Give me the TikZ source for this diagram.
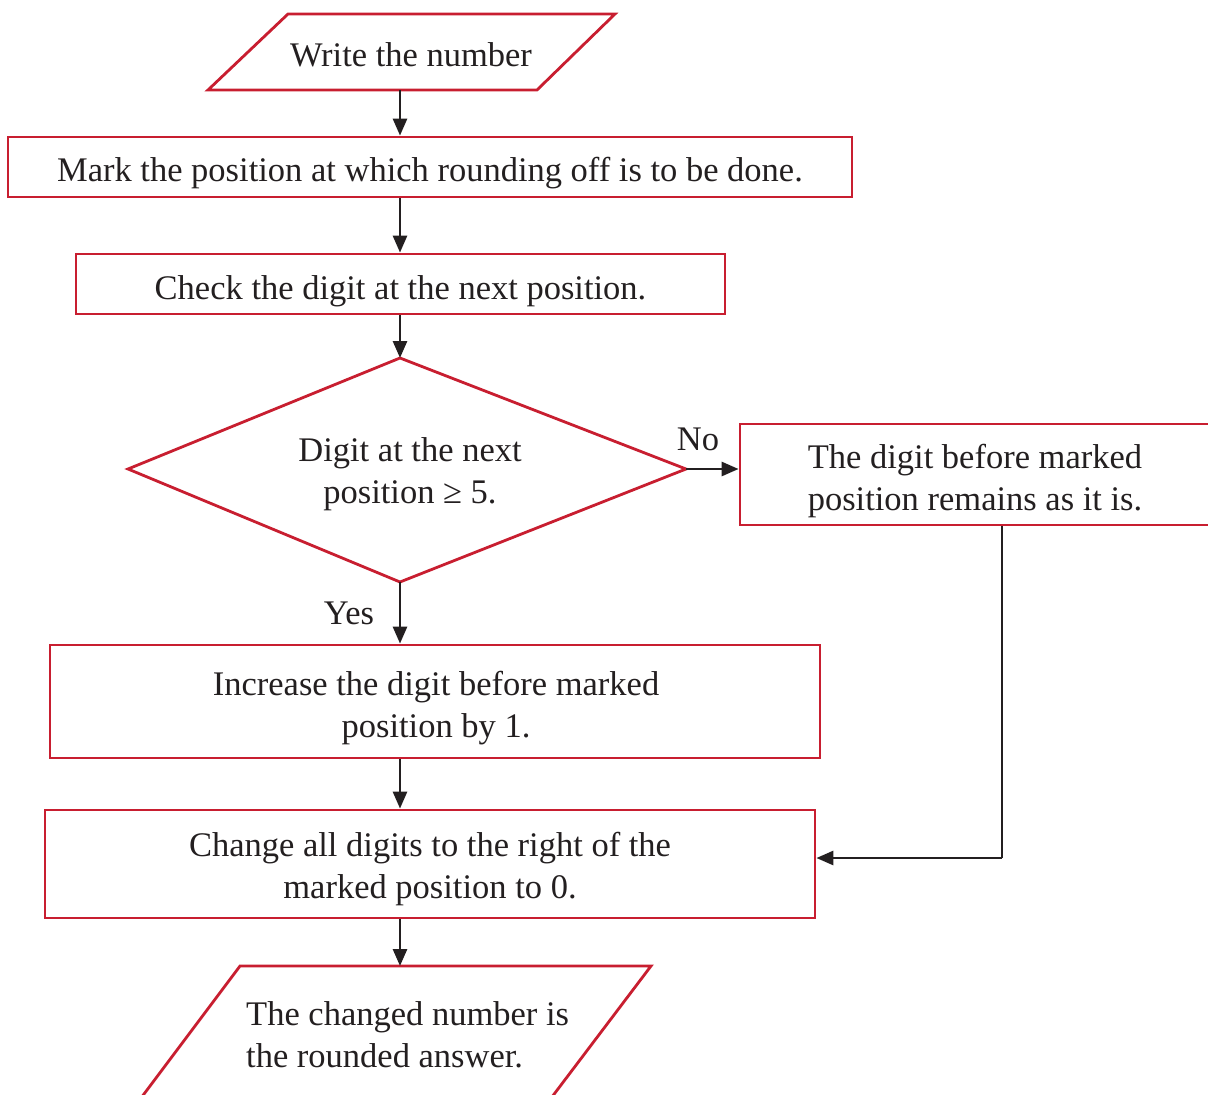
\documentclass[tikz,border=0pt]{standalone}
\usepackage{fontspec}
\setmainfont{Liberation Serif}
\usetikzlibrary{arrows.meta}
\definecolor{fred}{RGB}{200,30,48}
\definecolor{fink}{RGB}{35,31,32}
\tikzset{
  boxshape/.style={draw=fred, line width=2.8pt, rectangle, inner sep=0pt},
  outline/.style={draw=fred, line width=2.8pt, line join=miter},
  txt/.style={inner sep=0pt, text=fink, align=center, font=\fontsize{34.5}{42}\selectfont},
  arr/.style={draw=fink, line width=2.8pt, -{Triangle[length=17pt,width=14pt]}},
  plainline/.style={draw=fink, line width=2.8pt}
}
\begin{document}
\begin{tikzpicture}[x=1pt,y=-1pt]
\path[use as bounding box] (0,0) rectangle (1208,1095);
\clip (0,0) rectangle (1208,1095);
% input parallelogram
\draw[outline] (208,90) -- (288,14) -- (615,14) -- (537,90) -- cycle;
\node[txt] (w) at (411,55) {Write the number};
\coordinate (wb) at (400,90);
% boxes
\node[boxshape, minimum width=844pt, minimum height=60pt] (b2) at (430,167) {};
\node[txt] (t2) at (430,173) {Mark the position at which rounding off is to be done.};
\node[boxshape, minimum width=649pt, minimum height=60pt] (b3) at (400.5,284) {};
\node[txt] (t3) at (400.5,291) {Check the digit at the next position.};
% decision
\coordinate (dt) at (400,358);
\coordinate (dl) at (128,469);
\coordinate (dr) at (686,469);
\coordinate (db) at (400,582);
\draw[outline] (dt) -- (dr) -- (db) -- (dl) -- cycle;
\node[txt] (d) at (410,474) {Digit at the next\\position ≥ 5.};
\node[boxshape, minimum width=472pt, minimum height=101pt] (rb) at (976,474.5) {};
\node[txt] (trb) at (975,481) {The digit before marked\\position remains as it is.};
\node[boxshape, minimum width=770pt, minimum height=113pt] (b4) at (435,701.5) {};
\node[txt] (t4) at (436,708) {Increase the digit before marked\\position by 1.};
\node[boxshape, minimum width=770pt, minimum height=108pt] (b5) at (430,864) {};
\node[txt] (t5) at (430,869.5) {Change all digits to the right of the\\marked position to 0.};
% output parallelogram (bottom edge lies outside the picture)
\draw[outline] (120,1126) -- (240,966) -- (651,966) -- (530,1126);
\node[txt, align=left, anchor=west] (out) at (246,1035) {The changed number is\\the rounded answer.};
% labels
\node[txt] (no) at (698,439) {No};
\node[txt] (yes) at (349,613) {Yes};
% connectors
\draw[arr] (wb) -- (wb |- b2.north);
\draw[arr] (wb |- b2.south) -- (wb |- b3.north);
\draw[arr] (wb |- b3.south) -- (dt);
\draw[arr] (dr) -- (dr -| rb.west);
\draw[arr] (db) -- (db |- b4.north);
\draw[arr] (wb |- b4.south) -- (wb |- b5.north);
\coordinate (ob) at (400,966);
\draw[arr] (wb |- b5.south) -- (ob);
\coordinate (turn) at (1002,858);
\draw[plainline] (turn |- rb.south) -- (turn);
\draw[arr] (turn) -- (turn -| b5.east);
\end{tikzpicture}
\end{document}
